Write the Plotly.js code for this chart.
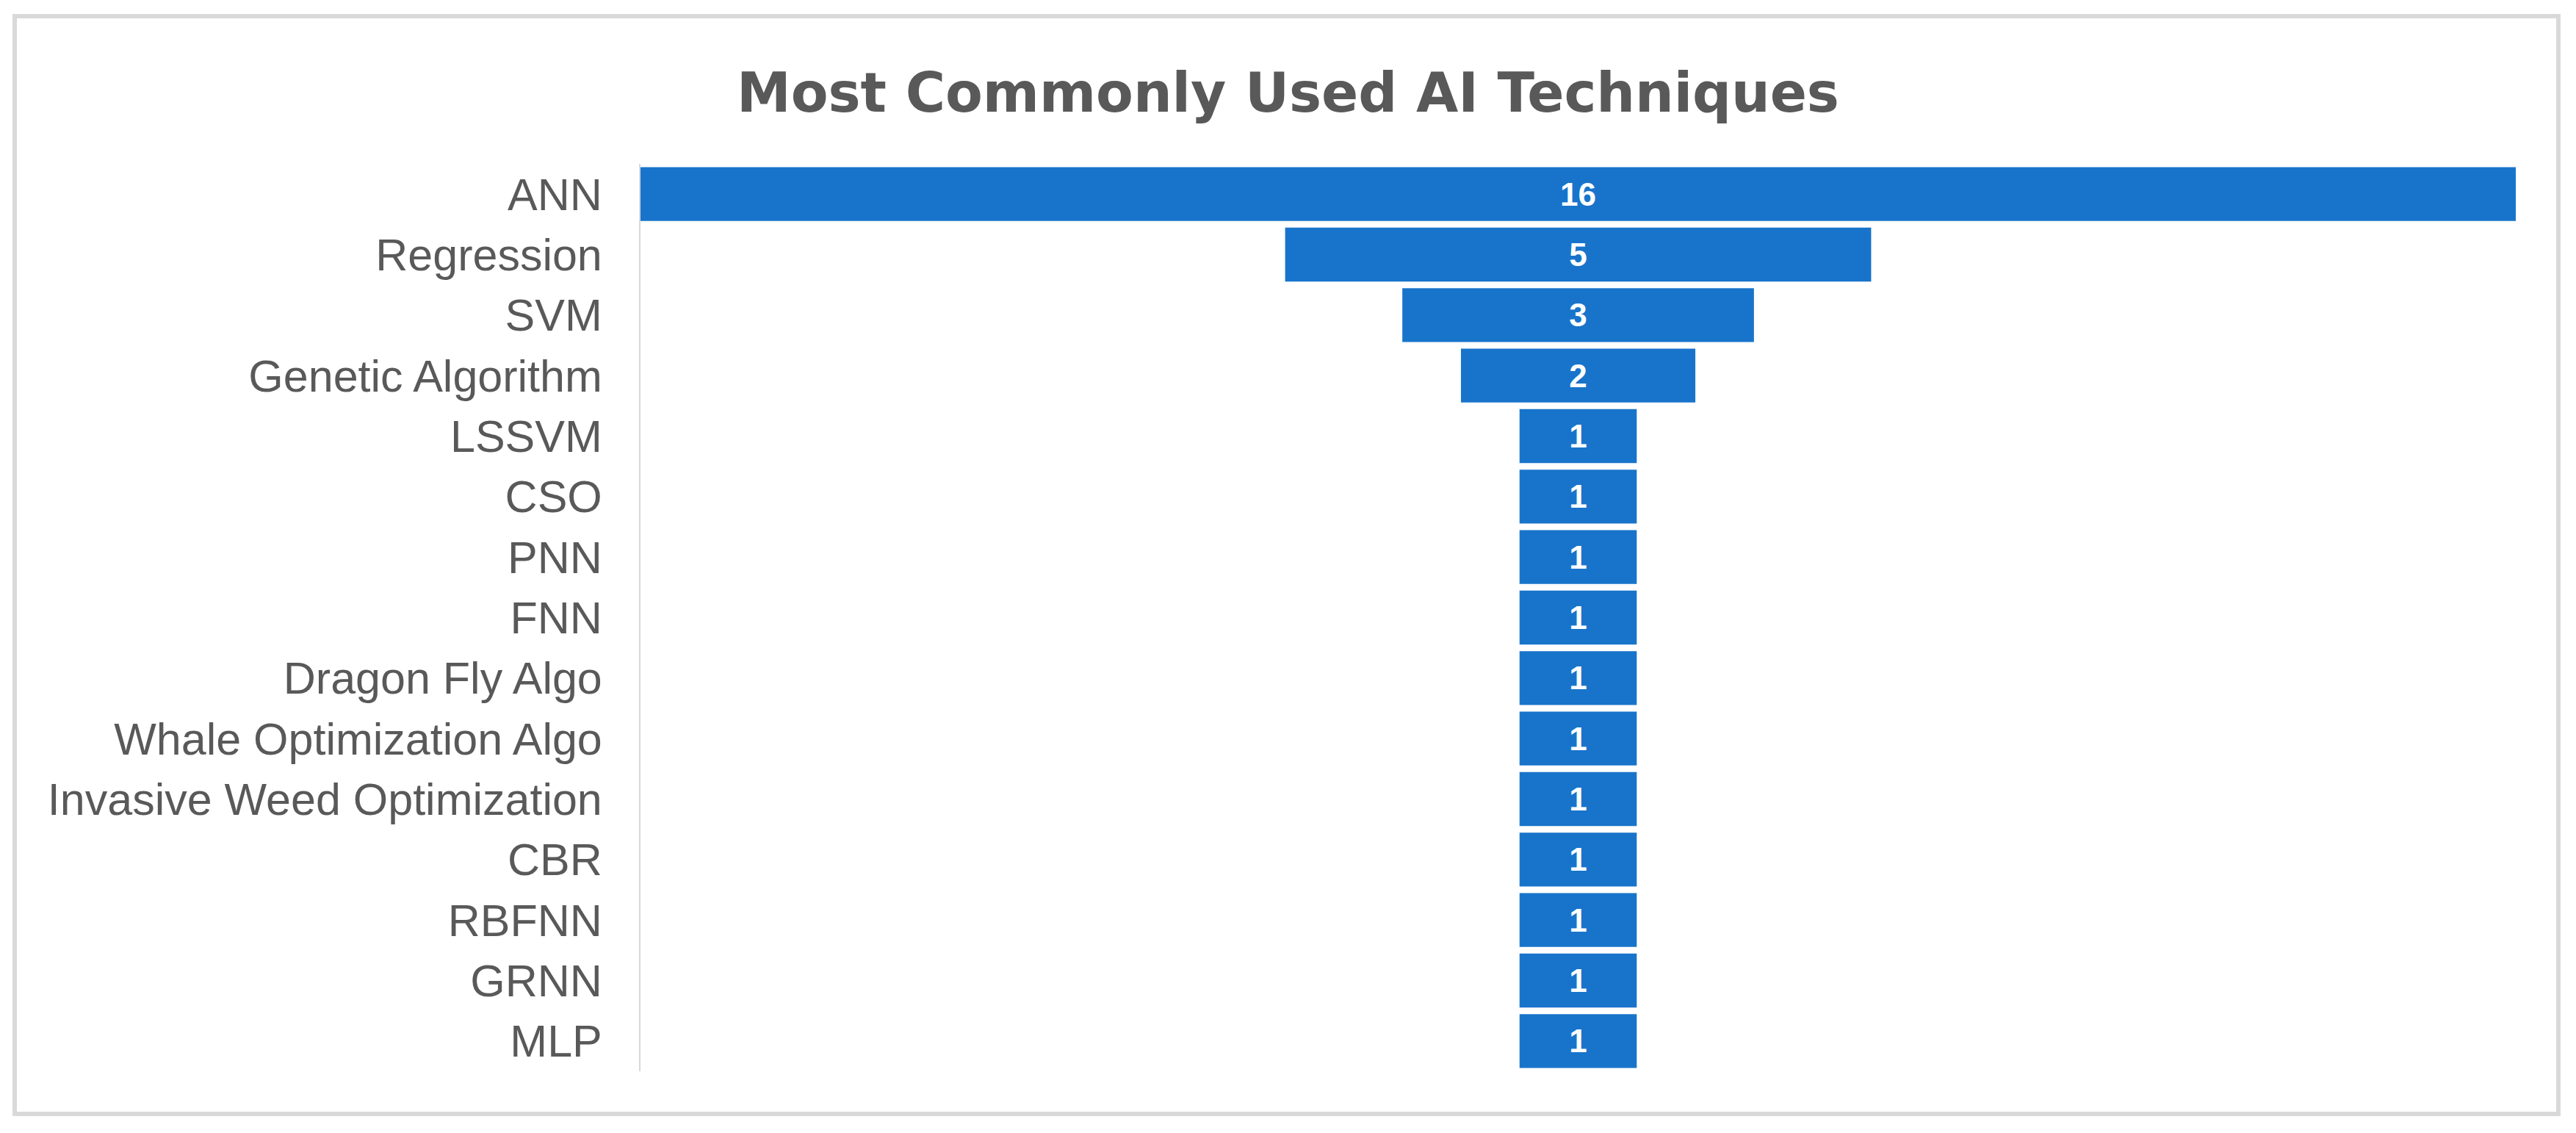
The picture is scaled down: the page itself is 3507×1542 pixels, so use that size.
<!DOCTYPE html>
<html>
<head>
<meta charset="utf-8">
<script src="https://cdn.plot.ly/plotly-3.0.1.min.js"></script>
<style>html,body{margin:0;padding:0;background:#fff;}#chart{width:3507px;height:1542px;}</style>
</head>
<body>
<div id="chart"></div>
<script>
const techniques = ["ANN","Regression","SVM","Genetic Algorithm","LSSVM","CSO","PNN","FNN","Dragon Fly Algo","Whale Optimization Algo","Invasive Weed Optimization","CBR","RBFNN","GRNN","MLP"];
const counts = [16,5,3,2,1,1,1,1,1,1,1,1,1,1,1];
const chartTitle = "Most Commonly Used AI Techniques";

const W = 3507, H = 1542;
const m = {l: 872, r: 82, t: 223, b: 84};
const pw = W - m.l - m.r, ph = H - m.t - m.b;
const px2x = p => (p - m.l) / pw;
const py2y = p => 1 - (p - m.t) / ph;

const trace = {
  type: 'funnel',
  y: techniques,
  x: counts,
  textinfo: 'value',
  textposition: 'inside',
  insidetextanchor: 'middle',
  textfont: {family: 'Liberation Sans, Arial, sans-serif', size: 44, color: '#ffffff', weight: 'bold'},
  marker: {color: 'rgb(24,116,202)', line: {width: 0}},
  connector: {visible: false},
  hoverinfo: 'none'
};

const layout = {
  width: W, height: H,
  margin: m,
  paper_bgcolor: '#ffffff',
  plot_bgcolor: '#ffffff',
  funnelgap: 0.11,
  showlegend: false,
  title: {
    text: chartTitle,
    font: {family: 'DejaVu Sans, sans-serif', size: 74, color: '#595959', weight: 'bold'},
    x: 0.5, xref: 'container', xanchor: 'center',
    y: 1 - 152 / H, yref: 'container', yanchor: 'bottom'
  },
  xaxis: {visible: false, range: [-8, 8], fixedrange: true},
  yaxis: {
    type: 'category',
    autorange: 'reversed',
    showline: true, linecolor: '#d9d9d9', linewidth: 2,
    ticks: '', showgrid: false, zeroline: false,
    ticklabelstandoff: 38,
    tickfont: {family: 'Liberation Sans, Arial, sans-serif', size: 61, color: '#595959'}
  },
  shapes: [{
    type: 'rect', xref: 'paper', yref: 'paper',
    x0: px2x(20), x1: px2x(3483), y0: py2y(22), y1: py2y(1516),
    line: {color: '#d9d9d9', width: 6}, fillcolor: 'rgba(0,0,0,0)', layer: 'below'
  }]
};

Plotly.newPlot('chart', [trace], layout, {displayModeBar: false, staticPlot: true});
</script>
</body>
</html>
